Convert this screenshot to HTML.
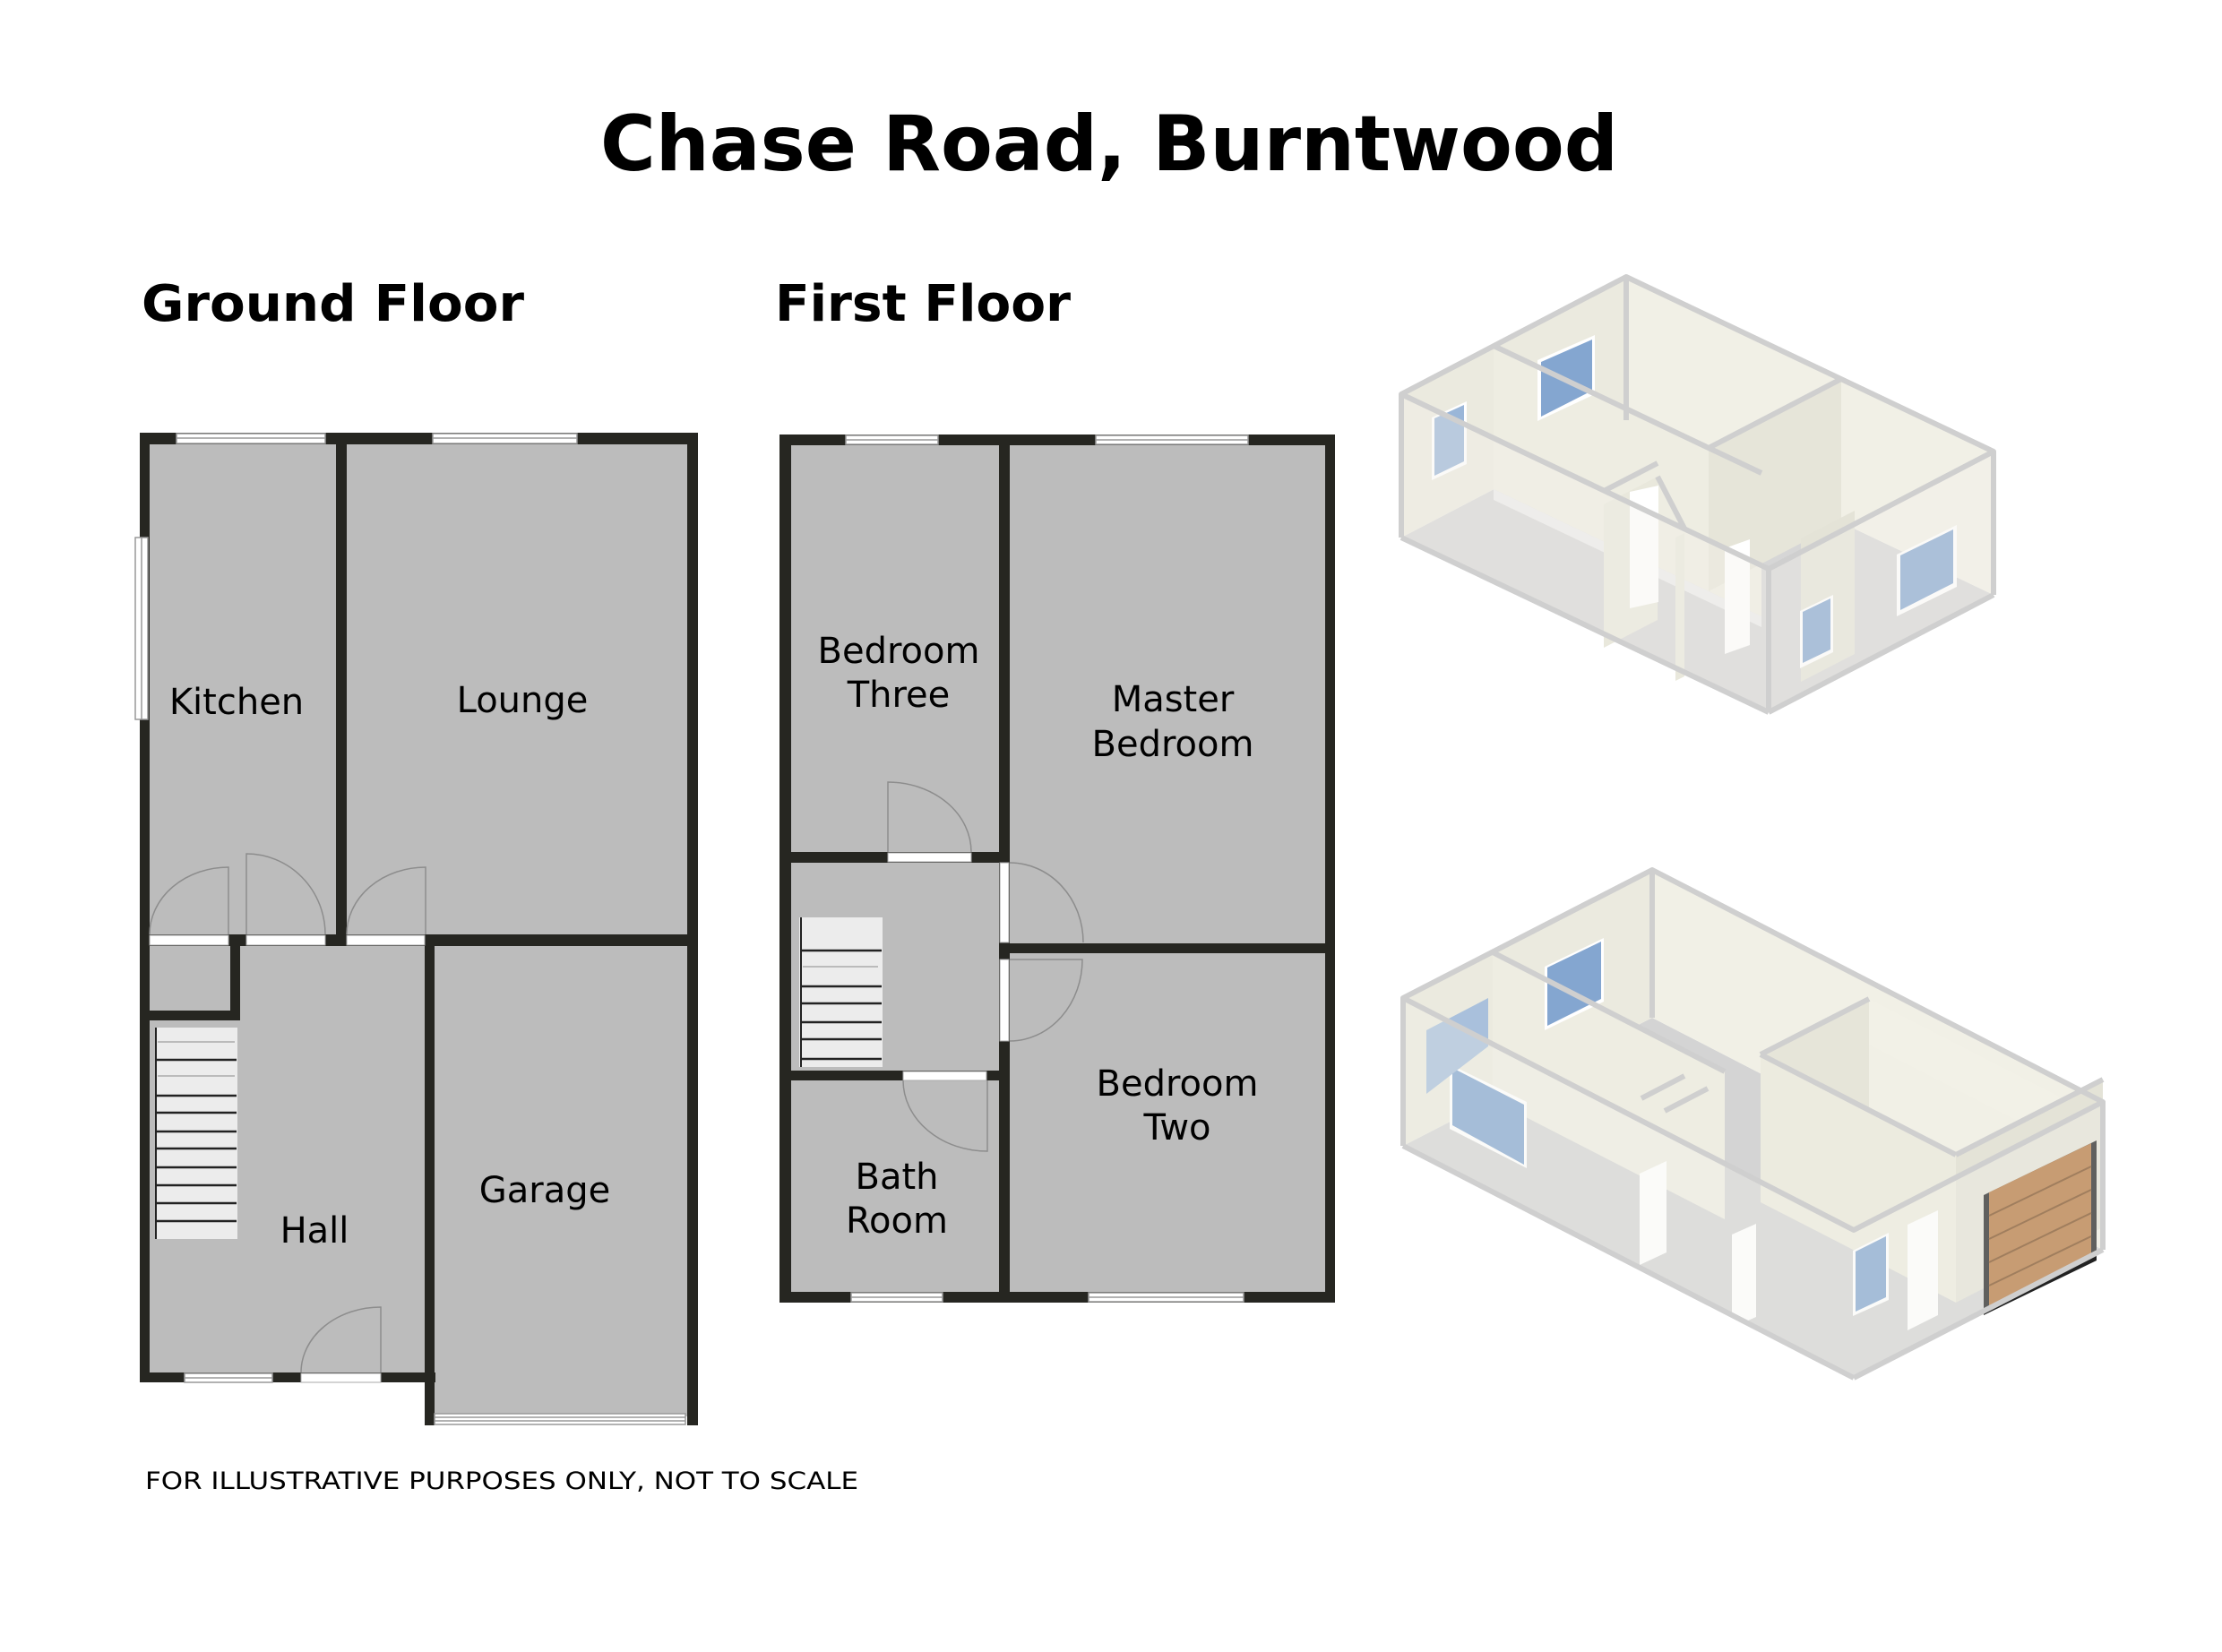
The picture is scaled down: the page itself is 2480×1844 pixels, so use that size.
<!DOCTYPE html>
<html><head><meta charset="utf-8"><style>
html,body{margin:0;padding:0;background:#fff;width:2480px;height:1844px;overflow:hidden}
svg{display:block}
text{font-family:"DejaVu Sans","Liberation Sans",sans-serif;fill:#000}
</style></head><body>
<svg width="2480" height="1844" viewBox="0 0 2480 1844" xmlns="http://www.w3.org/2000/svg">
<rect width="2480" height="1844" fill="#fff"/>
<!-- Titles -->
<text x="670" y="190" font-size="86" font-weight="bold" textLength="1136" lengthAdjust="spacingAndGlyphs">Chase Road, Burntwood</text>
<text x="158" y="358" font-size="56" font-weight="bold" textLength="427" lengthAdjust="spacingAndGlyphs">Ground Floor</text>
<text x="865" y="358" font-size="56" font-weight="bold" textLength="330" lengthAdjust="spacingAndGlyphs">First Floor</text>
<text x="162" y="1662" font-size="27" textLength="796" lengthAdjust="spacingAndGlyphs">FOR ILLUSTRATIVE PURPOSES ONLY, NOT TO SCALE</text>

<!-- ================= GROUND FLOOR ================= -->
<g>
<!-- floors -->
<rect x="167" y="496" width="208" height="548" fill="#bcbcbc"/>
<rect x="387" y="496" width="381" height="548" fill="#bcbcbc"/>
<rect x="167" y="1056" width="90" height="72" fill="#bcbcbc"/>
<rect x="167" y="1139" width="308" height="393" fill="#bcbcbc"/>
<rect x="267" y="1056" width="208" height="90" fill="#bcbcbc"/>
<rect x="485" y="1056" width="283" height="525" fill="#bcbcbc"/>
<g fill="#262621">
<rect x="156" y="483" width="623" height="13"/>
<rect x="156" y="483" width="11" height="1060"/>
<rect x="375" y="483" width="12" height="573"/>
<rect x="767" y="483" width="12" height="1108"/>
<rect x="156" y="1043" width="330" height="13"/>
<rect x="474" y="1043" width="305" height="13"/>
<rect x="257" y="1043" width="11" height="96"/>
<rect x="156" y="1128" width="112" height="11"/>
<rect x="156" y="1532" width="330" height="11"/>
<rect x="474" y="1043" width="11" height="548"/>
</g>
<!-- windows -->
<g fill="#fff" stroke="#999" stroke-width="1.5">
<rect x="197" y="484" width="166" height="11"/>
<rect x="483" y="484" width="161" height="11"/>
<rect x="151" y="600" width="14" height="203"/>
<rect x="206" y="1533" width="98" height="10"/>
<rect x="485" y="1578" width="280" height="12"/>
</g>
<g stroke="#999" stroke-width="1.5">
<line x1="197" y1="489" x2="363" y2="489"/>
<line x1="483" y1="489" x2="644" y2="489"/>
<line x1="158" y1="600" x2="158" y2="803"/>
<line x1="206" y1="1538" x2="304" y2="1538"/>
<line x1="485" y1="1582" x2="765" y2="1582"/>
<line x1="485" y1="1586" x2="765" y2="1586"/>
</g>
<!-- door openings -->
<g fill="#fff" stroke="#aaa" stroke-width="1">
<rect x="167" y="1044" width="88" height="11"/>
<rect x="275" y="1044" width="88" height="11"/>
<rect x="387" y="1044" width="87" height="11"/>
<rect x="336" y="1533" width="89" height="10"/>
</g>
<g fill="none" stroke="#8d8d8d" stroke-width="1.5">
<path d="M255 1043 V968 A88 75 0 0 0 167 1043"/>
<path d="M275 1043 V953 A88 90 0 0 1 363 1043"/>
<path d="M475 1043 V968 A88 75 0 0 0 387 1043"/>
<path d="M425 1532 V1459 A89 73 0 0 0 336 1532"/>
</g>
<!-- stairs -->
<rect x="173" y="1147" width="92" height="236" fill="#ececec"/>
<line x1="174" y1="1147" x2="174" y2="1383" stroke="#222" stroke-width="2"/>
<g stroke="#222" stroke-width="2.5">
<line x1="174" y1="1183" x2="264" y2="1183"/>
<line x1="174" y1="1223" x2="264" y2="1223"/>
<line x1="174" y1="1242" x2="264" y2="1242"/>
<line x1="174" y1="1263" x2="264" y2="1263"/>
<line x1="174" y1="1282" x2="264" y2="1282"/>
<line x1="174" y1="1303" x2="264" y2="1303"/>
<line x1="174" y1="1323" x2="264" y2="1323"/>
<line x1="174" y1="1343" x2="264" y2="1343"/>
<line x1="174" y1="1363" x2="264" y2="1363"/>
</g>
<g stroke="#bbb" stroke-width="2"><line x1="176" y1="1163" x2="262" y2="1163"/><line x1="176" y1="1201" x2="262" y2="1201"/></g>
<!-- labels -->
<g font-size="40" text-anchor="middle">
<text x="264" y="797">Kitchen</text>
<text x="583" y="795">Lounge</text>
<text x="351" y="1387">Hall</text>
<text x="608" y="1342">Garage</text>
</g>
</g>

<!-- ================= FIRST FLOOR ================= -->
<g>
<rect x="883" y="496" width="232" height="455" fill="#bcbcbc"/>
<rect x="1127" y="496" width="352" height="557" fill="#bcbcbc"/>
<rect x="883" y="963" width="232" height="232" fill="#bcbcbc"/>
<rect x="883" y="1206" width="232" height="237" fill="#bcbcbc"/>
<rect x="1127" y="1064" width="352" height="379" fill="#bcbcbc"/>
<g fill="#262621">
<rect x="870" y="485" width="620" height="12"/>
<rect x="870" y="485" width="13" height="969"/>
<rect x="1479" y="485" width="11" height="969"/>
<rect x="870" y="1442" width="620" height="12"/>
<rect x="1115" y="485" width="12" height="969"/>
<rect x="870" y="951" width="257" height="12"/>
<rect x="1115" y="1053" width="375" height="11"/>
<rect x="870" y="1195" width="257" height="11"/>
</g>
<g fill="#fff" stroke="#999" stroke-width="1.5">
<rect x="944" y="486" width="103" height="10"/>
<rect x="1223" y="486" width="170" height="10"/>
<rect x="950" y="1443" width="102" height="10"/>
<rect x="1215" y="1443" width="173" height="10"/>
</g>
<g stroke="#999" stroke-width="1.5">
<line x1="944" y1="491" x2="1047" y2="491"/>
<line x1="1223" y1="491" x2="1393" y2="491"/>
<line x1="950" y1="1448" x2="1052" y2="1448"/>
<line x1="1215" y1="1448" x2="1388" y2="1448"/>
</g>
<g fill="#fff" stroke="#aaa" stroke-width="1">
<rect x="991" y="952" width="93" height="10"/>
<rect x="1116" y="963" width="10" height="89"/>
<rect x="1116" y="1071" width="10" height="91"/>
<rect x="1008" y="1196" width="93" height="10"/>
</g>
<g fill="none" stroke="#8d8d8d" stroke-width="1.5">
<path d="M991 951 V873 A93 78 0 0 1 1084 951"/>
<path d="M1127 963 A82 89 0 0 1 1209 1052"/>
<path d="M1127 1071 H1208 A81 91 0 0 1 1127 1162"/>
<path d="M1102 1206 V1285 A94 79 0 0 1 1008 1206"/>
</g>
<rect x="892" y="1024" width="93" height="167" fill="#ececec"/>
<line x1="894" y1="1024" x2="894" y2="1191" stroke="#222" stroke-width="2"/>
<g stroke="#222" stroke-width="2.5">
<line x1="894" y1="1061" x2="984" y2="1061"/>
<line x1="894" y1="1101" x2="984" y2="1101"/>
<line x1="894" y1="1120" x2="984" y2="1120"/>
<line x1="894" y1="1141" x2="984" y2="1141"/>
<line x1="894" y1="1160" x2="984" y2="1160"/>
<line x1="894" y1="1182" x2="984" y2="1182"/>
</g>
<line x1="896" y1="1079" x2="980" y2="1079" stroke="#bbb" stroke-width="2"/>
<g font-size="40" text-anchor="middle">
<text x="1003" y="740">Bedroom</text>
<text x="1003" y="789">Three</text>
<text x="1309" y="794">Master</text>
<text x="1309" y="844">Bedroom</text>
<text x="1314" y="1223">Bedroom</text>
<text x="1314" y="1272">Two</text>
<text x="1001" y="1327">Bath</text>
<text x="1001" y="1376">Room</text>
</g>
</g>

<!-- ================= ISO TOP ================= -->
<g>
<polygon points="1564,600 1815,469 2225,664 1974,795" fill="#d6d6d6"/>
<polygon points="1564,440 1815,309 1815,469 1564,600" fill="#ebeadf"/>
<polygon points="1815,309 2225,504 2225,664 1815,469" fill="#f1f0e6"/>
<!-- partitions -->
<polygon points="1667,386 1966,528 1966,688 1667,546" fill="#eeede2"/>
<polygon points="1907,500 2055,423 2055,583 1907,660" fill="#e6e5d9"/>
<polygon points="1667,546 1966,688 1966,700 1667,558" fill="#fff" opacity="0.5"/>
<polygon points="1790,563 1850,532 1850,692 1790,723" fill="#e9e8dc"/>
<polygon points="1870,600 1880,595 1880,755 1870,760" fill="#e9e8dc"/>
<polygon points="2010,601 2070,570 2070,730 2010,761" fill="#e4e3d7"/>
<!-- doors -->
<polygon points="1819,549 1851,542 1851,672 1819,679" fill="#fff"/>
<polygon points="1925,612 1953,602 1953,720 1925,730" fill="#fff"/>
<!-- windows -->
<polygon points="1716,402 1780,374 1780,440 1716,470" fill="#fff"/>
<polygon points="1720,404 1777,379 1777,436 1720,465" fill="#84a6d0"/>
<polygon points="1598,466 1637,448 1637,518 1598,536" fill="#fff"/>
<polygon points="1601,467 1634,452 1634,515 1601,531" fill="#9ab6d8"/>
<polygon points="2009,682 2046,664 2046,728 2009,746" fill="#fff"/>
<polygon points="2012,683 2043,668 2043,725 2012,740" fill="#84a6d0"/>
<polygon points="2117,619 2184,586 2184,655 2117,688" fill="#fff"/>
<polygon points="2121,620 2180,591 2180,651 2121,681" fill="#84a6d0"/>
<!-- front translucent walls -->
<polygon points="1564,440 1974,635 1974,795 1564,600" fill="#f3f2ea" opacity="0.35"/>
<polygon points="1974,635 2225,504 2225,664 1974,795" fill="#f3f2ea" opacity="0.35"/>
<g fill="none" stroke="#cfcfcf" stroke-width="6" stroke-linejoin="round">
<polygon points="1564,440 1815,309 2225,504 1974,635"/>
<line x1="1667" y1="386" x2="1966" y2="528"/>
<line x1="1907" y1="500" x2="2055" y2="423"/>
<line x1="1564" y1="440" x2="1564" y2="600"/>
<line x1="1564" y1="600" x2="1974" y2="795"/>
<line x1="1974" y1="795" x2="2225" y2="664"/>
<line x1="2225" y1="504" x2="2225" y2="664"/>
<line x1="1974" y1="635" x2="1974" y2="795"/>
<line x1="1815" y1="309" x2="1815" y2="469"/>
<line x1="1790" y1="548" x2="1850" y2="517"/>
<line x1="1850" y1="532" x2="1880" y2="590"/>
</g>
</g>

<!-- ================= ISO BOTTOM ================= -->
<g>
<polygon points="1566,1279 1844,1136 2347,1395 2069,1538" fill="#d4d4d4"/>
<polygon points="1566,1114 1844,971 1844,1136 1566,1279" fill="#ebeadf"/>
<polygon points="1844,971 2347,1230 2347,1395 1844,1136" fill="#f1f0e6"/>
<!-- partitions -->
<polygon points="1666,1063 1925,1196 1925,1361 1666,1228" fill="#eeede2"/>
<polygon points="1965,1177 2086,1115 2086,1280 1965,1342" fill="#e6e5d9"/>
<polygon points="2086,1115 2347,1249 2347,1300 2086,1166" fill="#f2f1e7"/>
<polygon points="1965,1177 2183,1289 2183,1454 1965,1342" fill="#ecebdf"/>
<polygon points="2183,1289 2347,1205 2347,1370 2183,1454" fill="#e4e3d7"/>
<!-- garage door -->
<polygon points="2214,1334 2340,1273 2340,1407 2214,1468" fill="#222"/>
<polygon points="2220,1331 2334,1276 2334,1404 2220,1462" fill="#b5773f"/>
<g stroke="#7d4d22" stroke-width="2">
<line x1="2220" y1="1357" x2="2334" y2="1302"/>
<line x1="2220" y1="1383" x2="2334" y2="1328"/>
<line x1="2220" y1="1409" x2="2334" y2="1354"/>
<line x1="2220" y1="1435" x2="2334" y2="1380"/>
</g>
<!-- doors -->
<polygon points="2129,1367 2163,1351 2163,1468 2129,1485" fill="#fff"/>
<polygon points="1933,1378 1960,1366 1960,1470 1933,1482" fill="#fff"/>
<polygon points="1830,1310 1860,1296 1860,1398 1830,1412" fill="#fff"/>
<!-- windows -->
<polygon points="1618,1188 1704,1230 1704,1304 1618,1260" fill="#fff"/>
<polygon points="1621,1192 1701,1233 1701,1300 1621,1256" fill="#84a6d0"/>
<polygon points="1592,1150 1661,1114 1661,1168 1592,1221" fill="#a9c0dc"/>
<polygon points="1724,1079 1790,1047 1790,1118 1724,1150" fill="#fff"/>
<polygon points="1727,1080 1787,1051 1787,1115 1727,1145" fill="#84a6d0"/>
<polygon points="2068,1396 2108,1376 2108,1451 2068,1469" fill="#fff"/>
<polygon points="2071,1397 2105,1380 2105,1448 2071,1464" fill="#84a6d0"/>
<!-- front translucent walls -->
<polygon points="1566,1114 2069,1373 2069,1538 1566,1279" fill="#f3f2ea" opacity="0.3"/>
<polygon points="2069,1373 2347,1230 2347,1395 2069,1538" fill="#f3f2ea" opacity="0.3"/>
<g fill="none" stroke="#cfcfcf" stroke-width="6" stroke-linejoin="round">
<polygon points="1566,1114 1844,971 2347,1230 2069,1373"/>
<line x1="1666" y1="1063" x2="1925" y2="1196"/>
<line x1="1965" y1="1177" x2="2086" y2="1115"/>
<line x1="1965" y1="1177" x2="2183" y2="1289"/>
<line x1="2183" y1="1289" x2="2347" y2="1205"/>
<line x1="1566" y1="1114" x2="1566" y2="1279"/>
<line x1="1566" y1="1279" x2="2069" y2="1538"/>
<line x1="2069" y1="1538" x2="2347" y2="1395"/>
<line x1="2347" y1="1230" x2="2347" y2="1395"/>
<line x1="1844" y1="971" x2="1844" y2="1136"/>
<line x1="1832" y1="1226" x2="1880" y2="1201"/>
<line x1="1858" y1="1240" x2="1906" y2="1215"/>
</g>
</g>
</svg>
</body></html>
